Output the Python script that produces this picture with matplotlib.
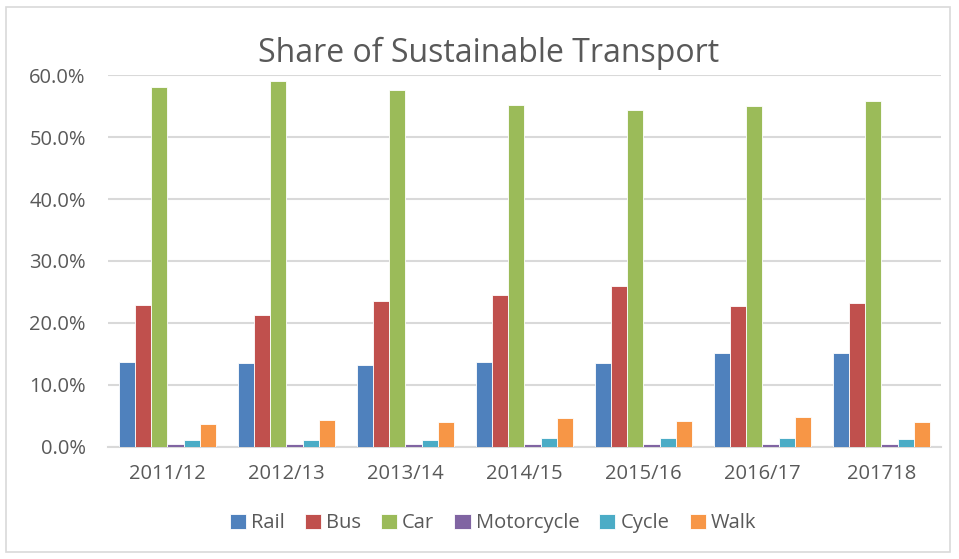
import matplotlib.pyplot as plt
import numpy as np
from matplotlib.patches import Rectangle
from matplotlib.ticker import FuncFormatter

plt.rcParams['font.family'] = ['Open Sans', 'DejaVu Sans']

# values (percent)
years = ['2011/12', '2012/13', '2013/14', '2014/15', '2015/16', '2016/17', '201718']
rail = [13.7, 13.5, 13.2, 13.7, 13.5, 15.2, 15.2]
bus = [22.9, 21.3, 23.5, 24.5, 26.0, 22.7, 23.2]
car = [58.1, 59.0, 57.6, 55.2, 54.4, 55.0, 55.8]
motorcycle = [0.5, 0.4, 0.4, 0.4, 0.4, 0.4, 0.4]
cycle = [1.1, 1.2, 1.2, 1.4, 1.4, 1.4, 1.3]
walk = [3.7, 4.4, 4.0, 4.6, 4.2, 4.8, 4.0]

series = [('Rail', rail, '#4F81BD'), ('Bus', bus, '#C0504D'), ('Car', car, '#9BBB59'),
          ('Motorcycle', motorcycle, '#8064A2'), ('Cycle', cycle, '#4BACC6'),
          ('Walk', walk, '#F79646')]

text_col = '#595959'
fig = plt.figure(figsize=(9.59, 5.59), dpi=100)
ax = fig.add_axes([0.1126, 0.2004, 0.8686, 0.6654])

x = np.arange(len(years))
w = 0.135
for i, (name, vals, col) in enumerate(series):
    ax.bar(x + (i - 2.5) * w, vals, w, color=col, label=name, edgecolor='white', linewidth=0.6, zorder=3)

ax.set_xlim(-0.5, len(years) - 0.5)
ax.set_ylim(0, 60)
ax.set_yticks(np.arange(0, 61, 10))
ax.yaxis.set_major_formatter(FuncFormatter(lambda v, p: f'{v:.1f}%'))
ax.set_xticks(x)
ax.set_xticklabels(years)
ax.grid(axis='y', color='#D9D9D9', linewidth=1.5, zorder=0)
for s in ['top', 'right', 'left']:
    ax.spines[s].set_visible(False)
ax.spines['bottom'].set_color('#D9D9D9')
ax.spines['bottom'].set_linewidth(1.5)
ax.tick_params(length=0, labelsize=14.5, colors=text_col)
ax.tick_params(axis='x', pad=12)
ax.tick_params(axis='y', pad=16)

fig.text(0.509, 0.905, 'Share of Sustainable Transport', ha='center', va='center',
         fontsize=23, color=text_col)
fig.legend(loc='center', bbox_to_anchor=(0.514, 0.064), ncol=6, frameon=False,
           fontsize=14.5, labelcolor=text_col, handlelength=0.8, handleheight=0.8,
           handletextpad=0.25, columnspacing=1.0)

fig.patches.append(Rectangle((0.006, 0.012), 0.985, 0.975, transform=fig.transFigure,
                             fill=False, edgecolor='#D9D9D9', linewidth=1.2))

fig.savefig('out.png', dpi=100)
